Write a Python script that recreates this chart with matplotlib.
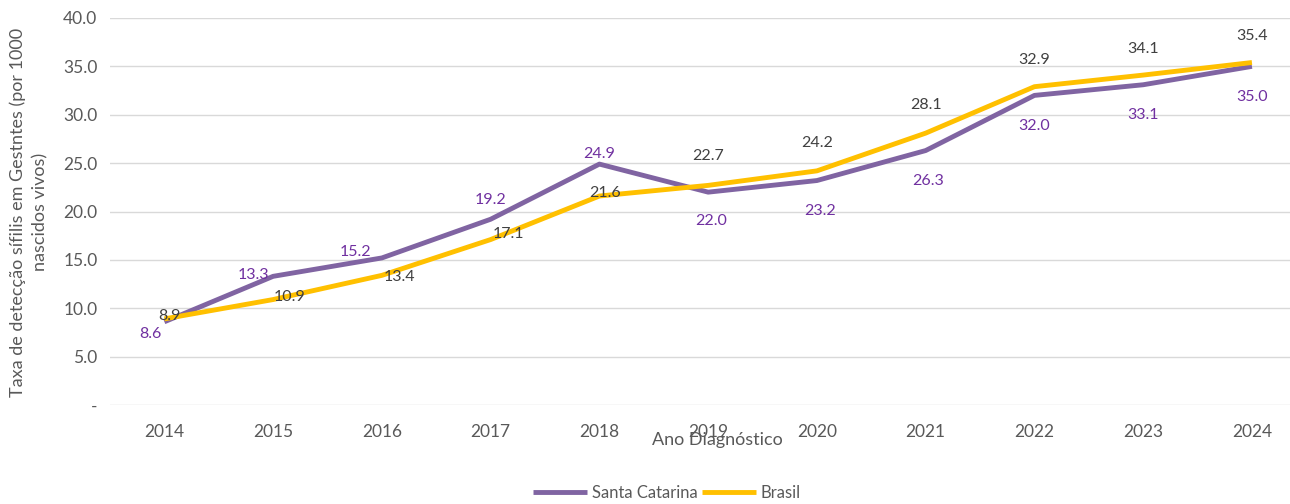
import matplotlib
matplotlib.use("Agg")
import matplotlib.pyplot as plt

plt.rcParams['font.family'] = ['Lato', 'DejaVu Sans']

years = ['2014', '2015', '2016', '2017', '2018', '2019', '2020', '2021', '2022', '2023', '2024']
santa_catarina = [8.6, 13.3, 15.2, 19.2, 24.9, 22.0, 23.2, 26.3, 32.0, 33.1, 35.0]
brasil = [8.9, 10.9, 13.4, 17.1, 21.6, 22.7, 24.2, 28.1, 32.9, 34.1, 35.4]
y_ticks = [0, 5, 10, 15, 20, 25, 30, 35, 40]
y_tick_labels = ['-', '5.0', '10.0', '15.0', '20.0', '25.0', '30.0', '35.0', '40.0']

# label offsets in points (dx, dy)
sc_off = [(-10, -9), (-14, 1), (-19, 4), (0, 14), (0, 7), (2, -21), (2, -22), (2, -22), (0, -22), (0, -22), (0, -22)]
br_off = [(4, 2), (12, 2), (13, -1), (13, 4), (4, 2), (0, 21), (0, 20), (0, 20), (0, 19), (0, 19), (0, 19)]

purple = '#8064A2'
yellow = '#FFC000'
grey = '#595959'

fig = plt.figure(figsize=(12.9, 5.04), dpi=100)
ax = fig.add_axes([110/1290, 99/504, 1180/1290, 387/504])

x = list(range(len(years)))
l1, = ax.plot(x, santa_catarina, color=purple, lw=3.5, solid_capstyle='butt', label='Santa Catarina', zorder=3)
l2, = ax.plot(x, brasil, color=yellow, lw=3.5, solid_capstyle='butt', label='Brasil', zorder=4)

for i, v in enumerate(santa_catarina):
    ax.annotate(f'{v:.1f}', (i, v), xytext=sc_off[i], textcoords='offset points',
                ha='center', va='center', color='#7030A0', fontsize=11.5, zorder=5)
for i, v in enumerate(brasil):
    ax.annotate(f'{v:.1f}', (i, v), xytext=br_off[i], textcoords='offset points',
                ha='center', va='center', color='#404040', fontsize=11.5, zorder=5)

ax.set_xlim(-0.5, 10.35)
ax.set_ylim(0, 40)
ax.set_yticks(y_ticks)
ax.set_yticklabels(y_tick_labels)
ax.set_xticks(x)
ax.set_xticklabels(years)
ax.grid(axis='y', color='#D9D9D9', lw=1)
ax.set_axisbelow(True)
for s in ax.spines.values():
    s.set_visible(False)
ax.tick_params(axis='both', length=0, colors=grey, labelsize=12.5)
ax.tick_params(axis='x', pad=14)
ax.tick_params(axis='y', pad=9)

fig.text(717/1290, 1 - 440/504, 'Ano Diagnóstico', ha='center', va='center', color=grey, fontsize=13)
fig.text(29/1290, 1 - 212/504, 'Taxa de detecção sífilis em Gestntes (por 1000\nnascidos vivos)',
         ha='center', va='center', rotation=90, color=grey, fontsize=13, linespacing=1.5)

fig.legend(handles=[l1, l2], loc='center', bbox_to_anchor=(667/1290, 1 - 493/504), ncol=2,
           frameon=False, fontsize=12, labelcolor=grey, handlelength=3.2, handletextpad=0.3,
           columnspacing=0.3)

fig.savefig('out.png', dpi=100)
